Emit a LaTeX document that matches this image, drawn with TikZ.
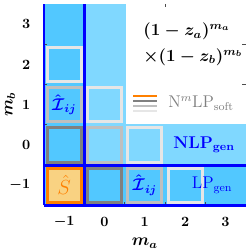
\documentclass[tikz,border=0pt]{standalone}
\usepackage{xcolor}
\usepackage{tikz}
\usepackage{amssymb}
\usepackage{amsmath}
\usepackage{bm}
\usetikzlibrary{positioning}
\definecolor{genblue}{HTML}{0000FF}
\definecolor{cellblue}{HTML}{52C8FF}
\definecolor{cellbluelight}{HTML}{80D8FF}
\definecolor{softorange}{HTML}{FF8000}
\definecolor{softorangelight}{HTML}{F9D282}
\definecolor{softgraydark}{HTML}{808080}
\definecolor{softgraymid}{HTML}{BFBFBF}
\definecolor{softgraylight}{HTML}{E6E6E6}

\begin{document}
\begin{tikzpicture}[
  x=1cm, y=1cm,
  cb/.style={draw, line width=2.1pt, minimum size=0.845cm, inner sep=0pt, font=\large},
  genline/.style={genblue, line width=2pt},
  legline/.style={line width=2pt},
  tck/.style={black!70, line width=0.6pt},
  lbl/.style={font=\bfseries}
]
\useasboundingbox (-2.593,-2.605) rectangle (3.586,3.598);

% cells
\fill[cellbluelight] (-0.5,-0.5) rectangle (3.5,3.5);
\fill[white] (0.53,0.53) rectangle (3.5,3.5);
\fill[cellblue] (-1.5,-1.5) rectangle (-0.5,3.5);
\fill[cellblue] (-0.5,-1.5) rectangle (3.5,-0.5);

\draw[tck] (-1.5,0.5) -- ++(0.08,0) (-1.5,1.5) -- ++(0.08,0) (-1.5,2.5) -- ++(0.08,0);
\draw[tck] (0.5,-1.5) -- ++(0,0.08) (1.5,-1.5) -- ++(0,0.08) (2.5,-1.5) -- ++(0,0.08);
\draw[tck] (3.5,1.5) -- ++(-0.08,0) (3.5,2.5) -- ++(-0.08,0) (1.5,3.5) -- ++(0,-0.08);

\node[cb, draw=softorange, fill=softorangelight, text=softorange, font=\Large] (s) at (-1,-1) {$\hat{S}$};
\node[cb, draw=softgraydark] (b0m1) at (0,-1) {};
\node[cb, draw=softgraydark] (bm10) at (-1,0) {};
\node[cb, draw=softgraymid, text=genblue] (b1m1) at (1,-1) {$\boldsymbol{\hat{\mathcal{I}}_{ij}}$};
\node[cb, draw=softgraymid] (b00) at (0,0) {};
\node[cb, draw=softgraymid, text=genblue] (bm11) at (-1,1) {$\boldsymbol{\hat{\mathcal{I}}_{ij}}$};
\node[cb, draw=softgraylight] (b2m1) at (2,-1) {};
\node[cb, draw=softgraylight] (b10) at (1,0) {};
\node[cb, draw=softgraylight] (b01) at (0,1) {};
\node[cb, draw=softgraylight] (bm12) at (-1,2) {};

\draw[genline] (-1.5,-1.5) -- (-1.5,3.5);
\draw[genline] (-0.5,-1.5) -- (-0.5,3.5);
\draw[genline] (-1.5,-1.5) -- (3.5,-1.5);
\draw[genline] (-1.5,-0.5) -- (3.5,-0.5);

\node[text=genblue, font=\large\bfseries] (nlp) at (2.47,0) {NLP$_{\textbf{gen}}$};
\node[text=genblue, font=\large] (lp) at (2.67,-1) {LP$_{\text{gen}}$};

% legend
\node[anchor=west, align=left, font=\large\boldmath] (wt) at (0.84,2.5) {$(1-z_a)^{m_a}$\\[4pt]$\times(1-z_b)^{m_b}$};
\draw[legline, softorange] (0.71,1.216) -- (1.30,1.216);
\draw[legline, softgraydark] (0.71,1.092) -- (1.30,1.092);
\draw[legline, softgraymid] (0.71,0.968) -- (1.30,0.968);
\draw[legline, softgraylight] (0.71,0.844) -- (1.30,0.844);
\node[anchor=west, text=softgraydark, font=\large] (nmlp) at (1.46,1.04) {N$^m$LP$_{\text{soft}}$};

% axes
\node[lbl] (xm1) at (-1,-1.91) {$\bm{-1}$};
\node[lbl] (x0) at (0,-1.91) {0};
\node[lbl] (x1) at (1,-1.91) {1};
\node[lbl] (x2) at (2,-1.91) {2};
\node[lbl] (x3) at (3,-1.91) {3};
\node[lbl, anchor=east] (ym1) at (-1.72,-1) {$\bm{-1}$};
\node[lbl, anchor=east] (y0) at (-1.72,0) {0};
\node[lbl, anchor=east] (y1) at (-1.72,1) {1};
\node[lbl, anchor=east] (y2) at (-1.72,2) {2};
\node[lbl, anchor=east] (y3) at (-1.72,3) {3};
\node[font=\large] (ma) at (1,-2.43) {$\bm{m_a}$};
\node[font=\large, rotate=90] (mb) at (-2.34,1) {$\bm{m_b}$};
\end{tikzpicture}
\end{document}
